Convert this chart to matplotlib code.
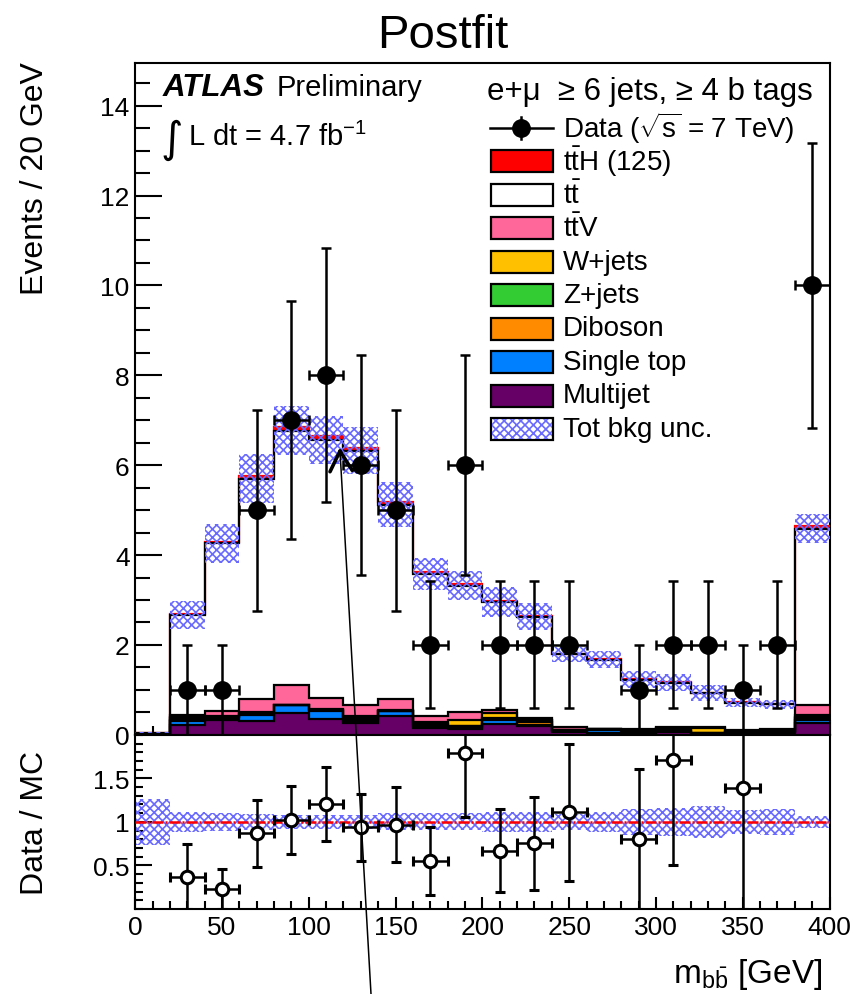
import numpy as np
import matplotlib
matplotlib.use('Agg')
from matplotlib import pyplot as plt
from matplotlib.lines import Line2D
from matplotlib.patches import Rectangle
from matplotlib.ticker import MultipleLocator

plt.rcParams['font.family'] = ['Liberation Sans', 'DejaVu Sans']
plt.rcParams['mathtext.fontset'] = 'custom'
plt.rcParams['mathtext.rm'] = 'Liberation Sans'
plt.rcParams['mathtext.it'] = 'Liberation Sans:italic'
plt.rcParams['mathtext.bf'] = 'Liberation Sans:bold'
plt.rcParams['hatch.linewidth'] = 1.2
plt.rcParams['axes.linewidth'] = 1.5

# m_bb in 20 GeV bins, last bin holds the overflow
bin_edges = np.arange(0, 401, 20)
bin_centres = bin_edges[:-1] + 10

# postfit yields per bin, stacked bottom -> top
multijet   = [0.01, 0.22, 0.33, 0.31, 0.48, 0.36, 0.27, 0.41, 0.16, 0.12,
              0.23, 0.19, 0.06, 0.03, 0.05, 0.06, 0.02, 0.03, 0.04, 0.27]
single_top = [0.00, 0.08, 0.04, 0.12, 0.18, 0.17, 0.04, 0.11, 0.03, 0.04,
              0.10, 0.03, 0.03, 0.07, 0.02, 0.02, 0.01, 0.02, 0.02, 0.07]
diboson    = [0.00, 0.03, 0.03, 0.03, 0.00, 0.02, 0.05, 0.02, 0.04, 0.03,
              0.02, 0.06, 0.01, 0.02, 0.03, 0.03, 0.00, 0.02, 0.02, 0.03]
zjets      = [0.00, 0.04, 0.00, 0.02, 0.00, 0.00, 0.03, 0.00, 0.02, 0.00,
              0.02, 0.05, 0.00, 0.00, 0.01, 0.04, 0.00, 0.00, 0.00, 0.03]
wjets      = [0.00, 0.02, 0.02, 0.02, 0.01, 0.02, 0.03, 0.01, 0.03, 0.15,
              0.12, 0.00, 0.00, 0.00, 0.00, 0.00, 0.12, 0.00, 0.00, 0.05]
ttv        = [0.00, 0.05, 0.11, 0.30, 0.43, 0.25, 0.25, 0.24, 0.14, 0.16,
              0.07, 0.04, 0.08, 0.02, 0.03, 0.03, 0.03, 0.04, 0.04, 0.21]
ttbar      = [0.04, 2.22, 3.73, 4.90, 5.67, 5.74, 5.65, 4.33, 3.16, 2.82,
              2.39, 2.26, 1.61, 1.53, 1.09, 0.98, 0.75, 0.60, 0.56, 3.93]
tth        = [0.00, 0.02, 0.04, 0.06, 0.08, 0.09, 0.07, 0.05, 0.04, 0.03,
              0.03, 0.02, 0.01, 0.01, 0.01, 0.01, 0.01, 0.01, 0.01, 0.06]
bkg_unc    = [0.013, 0.31, 0.44, 0.54, 0.55, 0.53, 0.52, 0.50, 0.35, 0.33,
              0.33, 0.30, 0.17, 0.19, 0.19, 0.19, 0.17, 0.10, 0.10, 0.33]
data       = [0, 1, 1, 5, 7, 8, 6, 5, 2, 6, 2, 2, 2, 0, 1, 2, 2, 1, 2, 10]

stack = [
    (multijet, '#660066', 'Multijet'),
    (single_top, '#0080ff', 'Single top'),
    (diboson, '#ff8c00', 'Diboson'),
    (zjets, '#33cc33', 'Z+jets'),
    (wjets, '#ffc000', 'W+jets'),
    (ttv, '#ff6699', r'$\mathrm{t\bar{t}}$V'),
    (ttbar, 'white', r'$\mathrm{t\bar{t}}$'),
    (tth, '#ff0000', r'$\mathrm{t\bar{t}}$H (125)'),
]
band_colour = '#6a6aff'
band_hatch = 'xxxx'

data = np.array(data, dtype=float)
unc = np.array(bkg_unc)

W, H = 861, 995
fig = plt.figure(figsize=(W / 100, H / 100), dpi=100)
ax = fig.add_axes([0.157, 0.2605, 0.8065, 0.6752])
rax = fig.add_axes([0.157, 0.0854, 0.8065, 0.1751])

# stacked histograms, fills first then outlines (signal outline under the rest)
base = np.zeros(len(bin_centres))
tops = []
for values, colour, _ in stack:
    top = base + np.array(values)
    ax.stairs(top, bin_edges, baseline=base, fill=True, color=colour, lw=0, zorder=2)
    tops.append(top)
    base = top
total = base
ax.stairs(total, bin_edges, baseline=None, color='red', lw=1.6, zorder=3)
for top in tops[:-1]:
    ax.stairs(top, bin_edges, baseline=None, color='black', lw=1.6, zorder=3.1)

bkg = total - np.array(tth)
ax.bar(bin_edges[:-1], 2 * unc, width=20, bottom=bkg - unc, align='edge',
       facecolor='none', edgecolor=band_colour, hatch=band_hatch, lw=0, zorder=4)

has = data > 0
ax.errorbar(bin_centres[has], data[has], yerr=np.sqrt(data[has]), xerr=10,
            fmt='o', color='black', ms=12.5, elinewidth=1.8, capsize=3.5,
            capthick=1.8, zorder=5)

ax.set_xlim(0, 400)
ax.set_ylim(0, 14.95)
ax.yaxis.set_major_locator(MultipleLocator(2))
ax.yaxis.set_minor_locator(MultipleLocator(0.5))
ax.xaxis.set_major_locator(MultipleLocator(50))
ax.xaxis.set_minor_locator(MultipleLocator(10))
ax.tick_params(which='both', direction='in', width=1.5, labelsize=19, pad=4)
ax.tick_params(axis='y', which='major', length=19.5)
ax.tick_params(axis='y', which='minor', length=11)
ax.tick_params(axis='x', which='major', length=11)
ax.tick_params(axis='x', which='minor', length=6.5)
ax.tick_params(labelbottom=False)

# ratio panel
ratio = data / total
ratio_err = np.sqrt(data) / total
rel_unc = unc / total
rax.bar(bin_edges[:-1], 2 * rel_unc, width=20, bottom=1 - rel_unc, align='edge',
        facecolor='none', edgecolor=band_colour, hatch=band_hatch, lw=0, zorder=2)
rax.axhline(1, color='red', lw=1.8, ls=(0, (4.4, 0.8, 0.8, 0.8)), zorder=3)
show = (data > 0) & (ratio < 2)
rax.errorbar(bin_centres[show], ratio[show], yerr=ratio_err[show], xerr=10,
             fmt='o', color='black', mfc='white', mec='black', mew=2.2, ms=9,
             elinewidth=1.8, capsize=3.5, capthick=1.8, zorder=5)

rax.set_xlim(0, 400)
rax.set_ylim(0, 2.0)
rax.set_yticks([0.5, 1, 1.5], ['0.5', '1', '1.5'])
rax.yaxis.set_minor_locator(MultipleLocator(0.1))
rax.xaxis.set_major_locator(MultipleLocator(50))
rax.xaxis.set_minor_locator(MultipleLocator(10))
rax.tick_params(which='both', direction='in', width=1.5, labelsize=19, pad=4)
rax.tick_params(axis='y', which='major', length=12)
rax.tick_params(axis='y', which='minor', length=6)
rax.tick_params(axis='x', which='major', length=9)
rax.tick_params(axis='x', which='minor', length=6)


def fx(px):
    return px / W


def fy(py):
    return 1 - py / H


# titles and labels
fig.text(fx(443), fy(48), 'Postfit', ha='center', va='baseline', fontsize=34)
fig.text(fx(35), fy(62), 'Events / 20 GeV', rotation=90, ha='center', va='top', fontsize=23)
fig.text(fx(35), fy(823), 'Data / MC', rotation=90, ha='center', va='center', fontsize=23)
fig.text(fx(822), fy(983), r'm$_{\mathrm{b\bar{b}}}$ [GeV]', ha='right', va='baseline', fontsize=24)

fig.text(fx(163), fy(96), 'ATLAS', fontsize=22.5, weight='bold', style='italic', va='baseline')
fig.text(fx(277), fy(96), 'Preliminary', fontsize=21, va='baseline')
fig.text(fx(160), fy(152), '\u222b', fontsize=31, va='baseline', family='DejaVu Sans')
fig.text(fx(188), fy(146), r'L dt = 4.7 fb$^{-1}$', fontsize=21, va='baseline')

# legend
fig.text(fx(487), fy(100), 'e+\u03bc  \u2265 6 jets, \u2265 4 b tags', fontsize=22.5, va='baseline')
rows = [128.5 + 33.5 * i for i in range(10)]
fig.add_artist(Line2D([fx(490), fx(553)], [fy(rows[0])] * 2, color='black', lw=1.8,
                      transform=fig.transFigure))
fig.add_artist(Line2D([fx(521)] * 2, [fy(rows[0] - 11), fy(rows[0] + 11)], color='black',
                      lw=1.8, transform=fig.transFigure))
fig.add_artist(Line2D([fx(521)], [fy(rows[0])], marker='o', ms=12.5, color='black',
                      transform=fig.transFigure))
fig.text(fx(563), fy(rows[0]), r'Data ($\sqrt{\mathrm{s}}$ = 7 TeV)', fontsize=20, va='center')

for row, (values, colour, label) in zip(rows[1:], stack[::-1]):
    fig.add_artist(Rectangle((fx(491), fy(row + 11)), fx(62), 22 / H, facecolor=colour,
                             edgecolor='black', lw=1.6, transform=fig.transFigure))
    fig.text(fx(563), fy(row), label, fontsize=20, va='center')
fig.add_artist(Rectangle((fx(491), fy(rows[9] + 11)), fx(62), 22 / H, facecolor='white',
                         edgecolor='black', lw=1.6, transform=fig.transFigure))
fig.add_artist(Rectangle((fx(492), fy(rows[9] + 10)), fx(60), 20 / H, facecolor='none',
                         edgecolor=band_colour, hatch=band_hatch, lw=0,
                         transform=fig.transFigure))
fig.text(fx(563), fy(rows[9]), 'Tot bkg unc.', fontsize=20, va='center')

# hand-drawn pointer
tail = np.array([371.0, 995.0])
tip = np.array([340.0, 452.0])
fig.add_artist(Line2D([fx(tail[0]), fx(tip[0])], [fy(tail[1]), fy(tip[1])], color='black',
                      lw=1.1, transform=fig.transFigure))
back = (tail - tip) / np.linalg.norm(tail - tip)
for ang in (np.radians(29), -np.radians(29)):
    rot = np.array([[np.cos(ang), -np.sin(ang)], [np.sin(ang), np.cos(ang)]])
    end = tip + 23 * rot @ back
    fig.add_artist(Line2D([fx(tip[0]), fx(end[0])], [fy(tip[1]), fy(end[1])], color='black',
                          lw=2.6, solid_capstyle='round', transform=fig.transFigure))

fig.savefig('out.png', dpi=100)
